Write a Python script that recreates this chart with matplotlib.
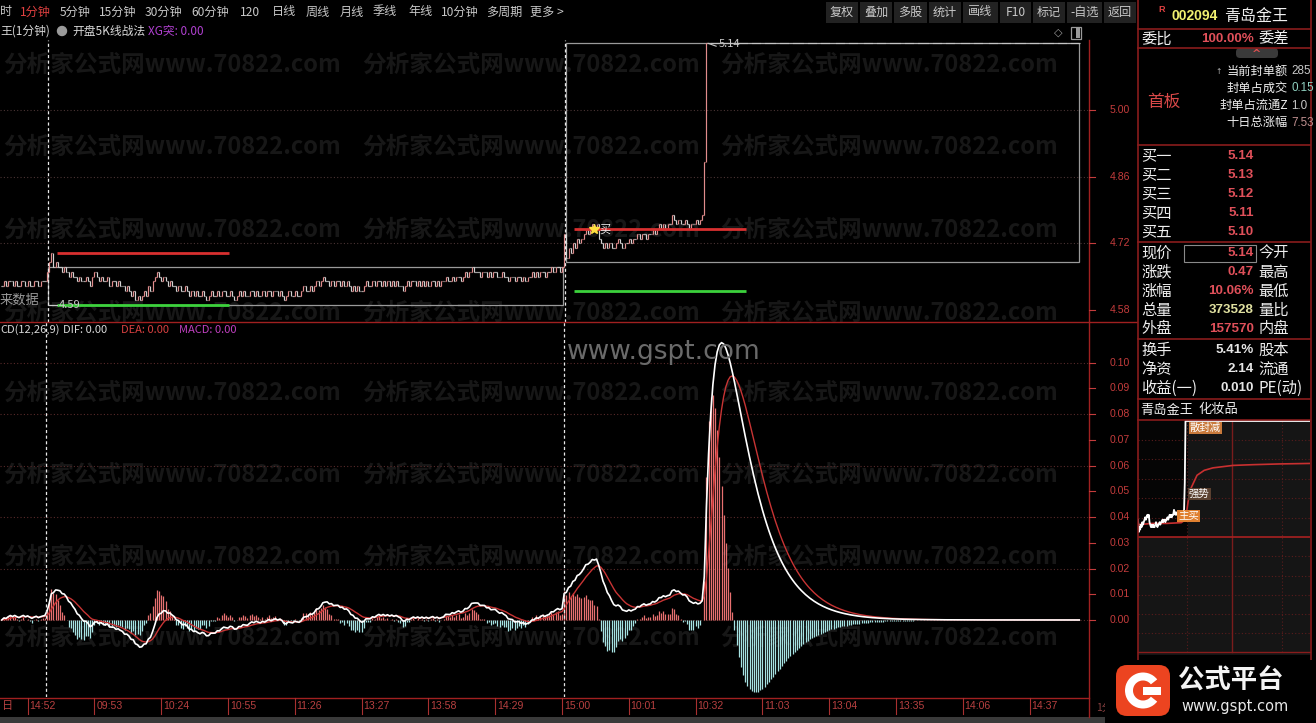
import numpy as np
import matplotlib
matplotlib.use('Agg')
import matplotlib.pyplot as plt
from matplotlib.collections import LineCollection
from matplotlib import transforms
from matplotlib.patches import Rectangle, FancyBboxPatch, Wedge

plt.rcParams['font.family'] = ['Noto Sans CJK SC', 'DejaVu Sans']

# ===================== DATA =====================
# 1-minute closes (in 0.01 yuan): last bars of previous day, day 1, day 2
prior_close = [463, 464, 463, 464, 464, 463, 464, 463, 463, 464, 464, 463, 464, 463, 463,
               464, 464, 463, 464, 464, 464]
day1_close = [
    466, 468, 470, 467,
    468, 467, 467, 466, 467,
    466, 465, 466, 465, 465,
    464, 465, 464, 464, 465, 464, 463,
    465, 466, 465, 464, 465,
    464, 464, 465, 463, 464, 464, 463,
    464, 463, 463, 462, 463, 462,
    461, 462, 460, 461, 460, 461,
    462, 461, 463, 462, 464,
    465, 466, 465, 464,
    465, 464, 463, 464, 463, 463, 462,
    463, 462, 462, 463, 462, 461, 462,
    461, 462, 461, 461, 462, 461, 460, 461,
    462, 461, 461, 462, 461, 462, 462, 461, 461, 462, 461, 460, 461, 462,
    461, 462, 461, 461, 462, 462, 461, 462, 461, 461, 462, 461, 462, 462, 461, 462,
    462, 461, 462, 461, 460, 461, 462, 461, 461, 462, 461, 461, 462, 463, 462,
    462, 463, 462, 463, 464, 463, 464,
    465, 464, 464, 463, 464, 463, 464, 464, 463, 464, 463, 464, 463,
    462, 463, 462, 463, 462, 462,
    463, 464, 463, 463, 464, 463, 464, 464, 463, 464, 463, 464, 463, 464,
    463, 464, 463, 463, 462, 463, 464, 463, 464, 464, 463, 464, 463,
    464, 463, 464, 463, 464, 464, 463, 464, 463, 464, 464, 465, 464,
    464, 465, 464, 465, 465, 464, 465, 466, 465, 466,
    467, 466, 466,
    466, 465, 466, 466, 465, 466, 465, 466, 466, 465, 465, 466, 465,
    465, 464, 465, 465, 464, 465, 465, 464, 465, 464, 465, 465, 466, 465,
    466, 465, 466, 466, 465, 466, 466,
    467, 466, 467, 467, 466, 467,
]
day2_close = [
    474, 469, 471, 470,
    472, 471, 473, 472, 473,
    474, 475, 474, 475, 476,
    475, 476,
    473, 472, 471, 472, 471, 472, 471, 471, 472,
    473, 472, 471, 472, 472, 473, 472, 473,
    473, 474, 473, 474, 474, 473, 474, 474, 475, 474,
    475, 476, 475, 476, 475, 476, 476,
    478, 477,
    476, 477, 476, 476, 477, 476, 475, 476, 476,
    477, 476, 477, 478,
    489,
    514,
] + [514] * 173

box1_range = (4.59, 4.67)
box2_range = (4.68, 5.14)
red_levels = [4.70, 4.75]
green_levels = [4.59, 4.62]
buy_signal_price = 4.75
day1_low_label = '4.59'
day2_high_label = '5.14'

price_ticks = [5.00, 4.86, 4.72, 4.58]
macd_ticks = [0.10, 0.09, 0.08, 0.07, 0.06, 0.05, 0.04, 0.03, 0.02, 0.01, 0.00]
macd_grid = [0.10, 0.08, 0.06, 0.04, 0.02, 0.00]

time_labels = ['14:52', '09:53', '10:24', '10:55', '11:26', '13:27', '13:58', '14:29', '15:00',
               '10:01', '10:32', '11:03', '13:04', '13:35', '14:06', '14:37']
time_bar_index = [-9, 22, 53, 84, 115, 146, 177, 208, 239, 270, 301, 332, 363, 394, 425, 456]

# mini time-share chart: average price line (minute, price)
mini_avg_minute = [0, 20, 40, 60, 66, 70, 74, 82, 92, 104, 132, 160, 197, 239]
mini_avg_price = [4.72, 4.725, 4.725, 4.728, 4.74, 4.82, 4.87, 4.92, 4.94, 4.95, 4.96, 4.963, 4.966, 4.968]
mini_prev_close = 4.67

toolbar_items = ['时', '1分钟', '5分钟', '15分钟', '30分钟', '60分钟', '120', '日线', '周线', '月线',
                 '季线', '年线', '10分钟', '多周期', '更多 >']
toolbar_buttons = ['复权', '叠加', '多股', '统计', '画线', 'F10', '标记', '-自选', '返回']

info_labels = ['当前封单额', '封单占成交', '封单占流通Z', '十日总涨幅']
info_values = ['285', '0.15', '1.0', '7.53']
bid_labels = ['买一', '买二', '买三', '买四', '买五']
bid_prices = ['5.14', '5.13', '5.12', '5.11', '5.10']
quote_labels = ['现价', '涨跌', '涨幅', '总量', '外盘']
quote_values = ['5.14', '0.47', '10.06%', '373528', '157570']
quote_right = ['今开', '最高', '最低', '量比', '内盘']
fin_labels = ['换手', '净资', '收益(一)']
fin_values = ['5.41%', '2.14', '0.010']
fin_right = ['股本', '流通', 'PE(动)']

# ===================== FIGURE =====================
W, H = 1316, 723
fig = plt.figure(figsize=(W / 100, H / 100), dpi=100)
fig.patch.set_facecolor('black')


def rect(x0, y0, x1, y1):
    return [x0 / W, 1 - y1 / H, (x1 - x0) / W, (y1 - y0) / H]


ax_bg = fig.add_axes([0, 0, 1, 1], zorder=0)
ax_bg.set_xlim(0, W); ax_bg.set_ylim(H, 0); ax_bg.axis('off')
ax_p = fig.add_axes(rect(0, 40, 1088, 322), zorder=1)
ax_m = fig.add_axes(rect(0, 322, 1088, 697), zorder=1)
ax_mini = fig.add_axes(rect(1138, 420, 1310, 652), zorder=2)
ax_fg = fig.add_axes([0, 0, 1, 1], zorder=3)
ax_fg.set_xlim(0, W); ax_fg.set_ylim(H, 0); ax_fg.axis('off')
for a in (ax_p, ax_m, ax_mini):
    a.axis('off')

KX0, KDX = 47.0, 2.155
xlim = (-KX0 / KDX, (1088 - KX0) / KDX)
ax_p.set_xlim(*xlim); ax_m.set_xlim(*xlim)
ax_p.set_ylim(4.5548, 5.147)
ax_m.set_ylim(-0.02993, 0.11582)
ax_mini.set_xlim(0, 239); ax_mini.set_ylim(4.204, 5.144)

RED_LINE = '#8a1c1c'
AXIS_RED = '#c43c3c'


def txt(ax, x, y, s, c='#d8d8d8', fs=9, ha='left', va='center', fw='normal', fam=None, z=5, **kw):
    kwargs = dict(color=c, fontsize=fs, ha=ha, va=va, fontweight=fw, zorder=z)
    if fam is not None:
        kwargs['family'] = fam
    kwargs.update(kw)
    return ax.text(x, y, s, **kwargs)


# ---------- watermarks ----------
for wy in [65, 147, 230, 313, 393, 475, 557, 638]:
    for wx in [3, 362, 720]:
        txt(ax_bg, wx, wy, '分析家公式网www.70822.com', c='#171717', fs=17, fw='bold', z=1)

# ---------- price panel ----------
closes = np.array(prior_close + day1_close + day2_close, dtype=float) / 100.0
k_all = np.arange(len(closes)) - len(prior_close)
opens = np.concatenate([[closes[0]], closes[:-1]])
highs = np.maximum(opens, closes)
lows = np.minimum(opens, closes)

segs, cols = [], []
for k, o, c, h, l in zip(k_all, opens, closes, highs, lows):
    col = '#e08c8c' if c > o else '#d2d2d2'
    segs += [[(k, l), (k, h)], [(k - 0.42, o), (k, o)], [(k, c), (k + 0.42, c)]]
    cols += [col, col, col]
ax_p.add_collection(LineCollection(segs, colors=cols, linewidths=0.85, zorder=4))

for v in price_ticks[:3]:
    ax_p.axhline(v, color='#4a3434', lw=0.8, ls=(0, (1, 2)), zorder=2)

d1, d2 = 0, 240
ax_p.add_patch(Rectangle((d1 + 0.46, box1_range[0]), 239.0, box1_range[1] - box1_range[0],
                         fill=False, ec='#9a9a9a', lw=0.9, zorder=3))
ax_p.add_patch(Rectangle((d2 + 0.8, box2_range[0]), 238.1, box2_range[1] - box2_range[0],
                         fill=False, ec='#9a9a9a', lw=0.9, zorder=3))
for ds, rv, gv in zip([d1, d2], red_levels, green_levels):
    ax_p.plot([ds + 4.5, ds + 84.5], [rv, rv], color='#d83030', lw=2.0, zorder=5, solid_capstyle='butt')
    ax_p.plot([ds + 4.5, ds + 84.5], [gv, gv], color='#3cd23c', lw=2.0, zorder=5, solid_capstyle='butt')

for dk in [0.3, 240.6]:
    ax_p.axvline(dk, color='#e8e8e8', lw=0.9, ls=(0, (2.5, 2)), zorder=6)
    ax_m.axvline(dk - 0.6, color='#e8e8e8', lw=0.9, ls=(0, (2.5, 2)), zorder=6)

# buy signal
ax_p.plot([254], [buy_signal_price], marker='*', color='#ffe040', ms=7, zorder=7)
ax_p.text(256.2, buy_signal_price, '买', color='#f0f0f0', fontsize=8, va='center', zorder=7)
# labels for extremes
ax_p.plot([0.5, 4.5], [4.59, 4.59], color='#c8c8c8', lw=0.8, zorder=7)
ax_p.text(5.7, 4.59, day1_low_label, color='#c8c8c8', fontsize=8, va='center', zorder=7)
ax_p.plot([306.8, 310.5], [5.14, 5.134], color='#c8c8c8', lw=0.8, zorder=7)
ax_p.text(311.5, 5.138, day2_high_label, color='#c8c8c8', fontsize=8, va='center', zorder=7)

# ---------- MACD ----------
def ema(x, n):
    a = 2.0 / (n + 1)
    out = np.empty_like(x)
    out[0] = x[0]
    for i in range(1, len(x)):
        out[i] = a * x[i] + (1 - a) * out[i - 1]
    return out


dif = ema(closes, 12) - ema(closes, 26)
dea = ema(dif, 9)
hist = 2 * (dif - dea)
for v in macd_grid:
    ax_m.axhline(v, color='#582a2a', lw=0.8, ls=(0, (1, 2)), zorder=2)
hcols = ['#e87070' if h >= 0 else '#a6e2e2' for h in hist]
ax_m.vlines(k_all, 0, hist, colors=hcols, lw=0.9, zorder=3)
ax_m.plot(k_all, dea, color='#c83434', lw=1.0, zorder=4)
ax_m.plot(k_all, dif, color='#ffffff', lw=1.2, zorder=5)

# ---------- frame lines ----------
ax_fg.plot([0, 1137], [322, 322], color='#a02020', lw=1.0)
ax_fg.plot([0, 1089], [697.5, 697.5], color='#a02020', lw=1.0)
ax_fg.plot([1089, 1089], [40, 717], color='#a02020', lw=1.0)
ax_fg.plot([1137.5, 1137.5], [0, 723], color=RED_LINE, lw=1.2)
ax_fg.plot([1310.5, 1310.5], [0, 660], color=RED_LINE, lw=1.2)

# price axis labels
bt_p = transforms.blended_transform_factory(ax_fg.transData, ax_p.transData)
for v in price_ticks:
    ax_fg.plot([1089, 1095], [v, v], color=AXIS_RED, lw=0.8, transform=bt_p)
    ax_fg.text(1110, v, f'{v:.2f}', color=AXIS_RED, fontsize=7.6, va='center', ha='left',
               transform=bt_p, family=['Liberation Sans'])
bt_m = transforms.blended_transform_factory(ax_fg.transData, ax_m.transData)
for v in macd_ticks:
    ax_fg.plot([1089, 1095], [v, v], color=AXIS_RED, lw=0.8, transform=bt_m)
    ax_fg.text(1110, v, f'{v:.2f}', color=AXIS_RED, fontsize=7.6, va='center', ha='left',
               transform=bt_m, family=['Liberation Sans'])

# time axis
bt_t = transforms.blended_transform_factory(ax_m.transData, ax_fg.transData)
for lab, k in zip(time_labels, time_bar_index):
    ax_fg.plot([k, k], [698, 714], color='#a83030', lw=0.8, transform=bt_t)
    ax_fg.text(k + 0.8, 706, lab, color='#b84040', fontsize=7.6, va='center', ha='left',
               transform=bt_t, family=['Liberation Sans'])
txt(ax_fg, 2, 706, '日', c='#b84040', fs=8)
ax_bg.add_patch(Rectangle((0, 717), 1105, 6, fc='#3a3a3a', ec='none', zorder=2))

# ---------- top toolbar ----------
tool_x = [0, 20, 60, 99, 145, 191, 240, 272, 306, 340, 373, 408, 441, 486, 530]
for s, x in zip(toolbar_items, tool_x):
    txt(ax_fg, x, 12, s, c='#e04040' if s == '1分钟' else '#c8c8c8', fs=8.7)
btn_edges = [825, 859, 893, 928, 962, 999, 1032, 1066, 1103, 1137]
for i, s in enumerate(toolbar_buttons):
    x0, x1 = btn_edges[i], btn_edges[i + 1]
    ax_bg.add_patch(Rectangle((x0 + 1, 2), x1 - x0 - 2, 21, fc='#222222', ec='none', zorder=2))
    txt(ax_fg, (x0 + x1) / 2, 12, s, c='#c8c8c8', fs=8.7, ha='center')

# second header row
txt(ax_fg, 0, 31, '王(1分钟)', c='#d8d8d8', fs=8.5)
ax_fg.add_patch(plt.Circle((62, 31), 4.5, color='#9a9a9a'))
txt(ax_fg, 72, 31, '开盘5K线战法', c='#d8d8d8', fs=8.5)
txt(ax_fg, 148, 31, 'XG突: 0.00', c='#b040d0', fs=8.5)
txt(ax_fg, 1058, 33, '◇', c='#9a9a9a', fs=8, ha='center', fam=['DejaVu Sans'])
ax_fg.add_patch(Rectangle((1071, 27), 10, 12, fill=False, ec='#9a9a9a', lw=0.9))
ax_fg.add_patch(Rectangle((1076, 28), 4, 10, fc='#9a9a9a', ec='none'))

# MACD legend & misc
txt(ax_fg, 0, 330, 'CD(12,26,9)', c='#d8d8d8', fs=8)
txt(ax_fg, 63, 330, 'DIF: 0.00', c='#d8d8d8', fs=8)
txt(ax_fg, 121, 330, 'DEA: 0.00', c='#d84040', fs=8)
txt(ax_fg, 179, 330, 'MACD: 0.00', c='#c040c0', fs=8)
txt(ax_fg, 0, 300, '来数据', c='#9a9a9a', fs=9.5)
txt(ax_fg, 567, 352, 'www.gspt.com', c='#6a6a6a', fs=19, fam=['DejaVu Sans'], z=8)

# ---------- right quote panel ----------
for y in [29, 48, 145, 242, 339, 399, 420]:
    ax_fg.plot([1138, 1310], [y, y], color=RED_LINE, lw=1.2)
txt(ax_fg, 1158, 10, 'R', c='#e04040', fs=6.5, fam=['Liberation Sans'], fw='bold')
txt(ax_fg, 1172, 16, '002094', c='#f0f070', fs=10, fam=['Liberation Sans'], fw='bold')
txt(ax_fg, 1224, 16, '青岛金王', c='#f0f0f0', fs=11.5)
txt(ax_fg, 1141, 39, '委比', c='#eeeeee', fs=11)
txt(ax_fg, 1254, 39, '100.00%', c='#e0505a', fs=9.6, ha='right', fam=['Liberation Sans'], fw='bold')
txt(ax_fg, 1258, 39, '委差', c='#eeeeee', fs=11)
ax_fg.add_patch(FancyBboxPatch((1236, 48), 42, 10, boxstyle='round,pad=0,rounding_size=4',
                               fc='#3a3a3a', ec='none'))
txt(ax_fg, 1257, 54, '^', c='#e05050', fs=8, ha='center', fam=['DejaVu Sans'], fw='bold')
txt(ax_fg, 1147, 102, '首板', c='#d84848', fs=12)
txt(ax_fg, 1215, 71, '↑', c='#b0b0b0', fs=5.5, fam=['DejaVu Sans'])
info_colors = ['#c8c8c8', '#8fd0c0', '#c8c8c8', '#c09090']
for i, (lab, val, ic) in enumerate(zip(info_labels, info_values, info_colors)):
    yy = 71 + i * 17.3
    txt(ax_fg, 1288, yy, lab, c='#eeeeee', fs=8.8, ha='right')
    txt(ax_fg, 1291, yy, val, c=ic, fs=8.4, fam=['Liberation Sans'])
for i, (lab, val) in enumerate(zip(bid_labels, bid_prices)):
    yy = 156 + i * 19
    txt(ax_fg, 1141, yy, lab, c='#eeeeee', fs=11)
    txt(ax_fg, 1254, yy, val, c='#e0505a', fs=9.6, ha='right', fam=['Liberation Sans'], fw='bold')
qcols = ['#e0505a', '#e0505a', '#e0505a', '#e0e0a0', '#e0505a']
for i, (lab, val, rl, qc) in enumerate(zip(quote_labels, quote_values, quote_right, qcols)):
    yy = 253 + i * 19
    txt(ax_fg, 1141, yy, lab, c='#eeeeee', fs=11)
    txt(ax_fg, 1254, yy, val, c=qc, fs=9.6, ha='right', fam=['Liberation Sans'], fw='bold')
    txt(ax_fg, 1258, yy, rl, c='#eeeeee', fs=11)
ax_fg.add_patch(Rectangle((1184, 245), 72, 17, fill=False, ec='#8a8a8a', lw=0.8))
for i, (lab, val, rl) in enumerate(zip(fin_labels, fin_values, fin_right)):
    yy = 350 + i * 19
    txt(ax_fg, 1141, yy, lab, c='#eeeeee', fs=11)
    txt(ax_fg, 1254, yy, val, c='#e6e6e6', fs=9.6, ha='right', fam=['Liberation Sans'], fw='bold')
    txt(ax_fg, 1258, yy, rl, c='#eeeeee', fs=11)
txt(ax_fg, 1140, 410, '青岛金王', c='#eeeeee', fs=9.5)
txt(ax_fg, 1198, 410, '化妆品', c='#eeeeee', fs=9.5)

# ---------- mini time-share chart ----------
ax_bg.add_patch(Rectangle((1138, 421), 172, 234, fc='#151515', ec='none', zorder=2))
ax_bg.add_patch(Rectangle((1138, 421), 50, 116, fc='#050505', ec='none', zorder=2))
for y in [440, 459, 479, 498, 518, 556, 576, 595, 614, 633]:
    ax_bg.plot([1138, 1310], [y, y], color='#5a1c1c', lw=0.8, ls=(0, (1, 2)), zorder=3)
for x in [1187, 1282]:
    ax_bg.plot([x, x], [421, 652], color='#5a1c1c', lw=0.8, ls=(0, (1, 2)), zorder=3)
ax_bg.plot([1232, 1232], [421, 652], color='#7a1c1c', lw=1.0, zorder=3)
ax_bg.plot([1138, 1310], [652, 652], color='#8a1c1c', lw=1.0, zorder=3)
ax_mini.axhline(mini_prev_close, color='#a82020', lw=1.2, zorder=2)
ax_mini.plot(np.arange(len(day2_close)), np.array(day2_close) / 100.0, color='white', lw=1.3, zorder=4)
ax_mini.plot(mini_avg_minute, mini_avg_price, color='#c83030', lw=1.2, zorder=3)
txt(ax_fg, 1190, 428, '散封减', c='#ffffff', fs=7.5, bbox=dict(fc='#c87a3c', ec='none', pad=0.6))
txt(ax_fg, 1189, 494, '强势', c='#ffffff', fs=7.5, bbox=dict(fc='#5a4030', ec='none', pad=0.6))
txt(ax_fg, 1178, 516, '主买', c='#ffffff', fs=7.5, bbox=dict(fc='#e08030', ec='none', pad=0.6))

# ---------- logo ----------
txt(ax_fg, 1096, 708, '1分钟', c='#884040', fs=7.5)
ax_fg.add_patch(Rectangle((1105, 660), 211, 63, fc='black', ec='none', zorder=8))
ax_fg.add_patch(FancyBboxPatch((1116, 665), 54, 51, boxstyle='round,pad=0,rounding_size=11',
                               fc='#ec4420', ec='none', zorder=9))
ax_fg.add_patch(Wedge((1143, 690.5), 18, 38, 322, width=8, fc='white', ec='none', zorder=10))
ax_fg.add_patch(Rectangle((1143, 686.5), 18, 8, fc='white', ec='none', zorder=10))
txt(ax_fg, 1178, 681, '公式平台', c='#f4f4f4', fs=19, fw='bold', z=10)
txt(ax_fg, 1181, 707, 'www.gspt.com', c='#e8e8e8', fs=10.5, fam=['DejaVu Sans'], z=10)

fig.savefig('out.png', dpi=100, facecolor='black')
